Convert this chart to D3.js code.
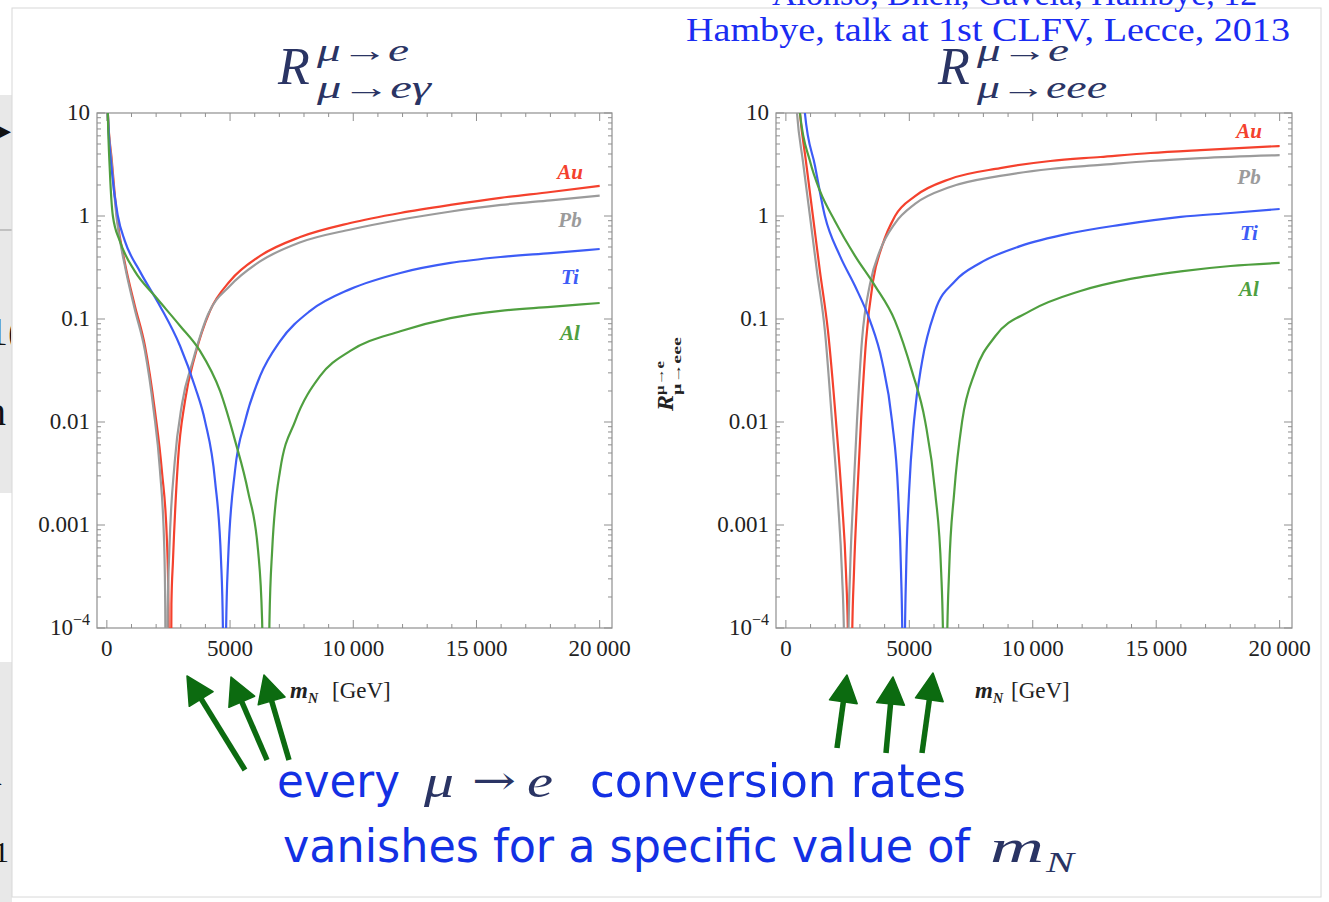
<!DOCTYPE html>
<html><head><meta charset="utf-8">
<script src="https://cdn.jsdelivr.net/npm/d3@7"></script>
<style>body{margin:0;background:#fff}svg{display:block}</style>
</head><body>
<svg id="c" width="1329" height="902"></svg>
<script>
// ---------------- DATA ----------------
const xTicks = [0, 5000, 10000, 15000, 20000];
const xTickLabels = ["0", "5000", "10\u2009000", "15\u2009000", "20\u2009000"];
const yTicks = [10, 1, 0.1, 0.01, 0.001, 0.0001];
const yTickLabels = ["10", "1", "0.1", "0.01", "0.001", "10^-4"];
const elements = ["Au", "Pb", "Ti", "Al"];

// Left panel: R(mu->e)/(mu->e gamma)
const leftAu = [[0,40],[40,10],[203,3.42],[407,1.0],[732,0.35],[1138,0.134],[1545,0.055],[1951,0.0128],[2236,0.0033],[2439,0.0007],[2500,0.00017],[2560,1e-7],[2620,0.00017],[2683,0.00045],[2886,0.0042],[3171,0.016],[3577,0.044],[4187,0.12],[5000,0.234],[6220,0.41],[7845,0.625],[9878,0.855],[11910,1.07],[13943,1.28],[15975,1.5],[18008,1.71],[20000,1.96]];
const leftPb = [[0,40],[40,10],[200,3.2],[400,0.95],[730,0.33],[1130,0.125],[1540,0.05],[1900,0.013],[2150,0.0035],[2330,0.0006],[2370,0.00015],[2420,1e-7],[2470,0.00015],[2540,0.0006],[2750,0.004],[3050,0.015],[3500,0.04],[4100,0.11],[5000,0.21],[6200,0.36],[7800,0.55],[9900,0.74],[11900,0.92],[13900,1.1],[16000,1.28],[18000,1.42],[20000,1.58]];
const leftTi = [[0,40],[40,10],[203,2.73],[447,1.0],[732,0.57],[1341,0.29],[2154,0.134],[2967,0.055],[3577,0.022],[3984,0.0102],[4390,0.0027],[4634,0.00045],[4710,0.0001],[4776,1e-7],[4840,0.0001],[4919,0.00045],[5203,0.0034],[5610,0.0102],[6220,0.028],[7032,0.061],[8252,0.12],[9878,0.195],[11910,0.28],[13943,0.35],[15975,0.40],[18008,0.437],[20000,0.478]];
const leftAl = [[0,40],[40,10],[122,2.73],[244,1.0],[528,0.57],[1138,0.29],[1951,0.167],[2967,0.086],[3780,0.049],[4593,0.02],[5203,0.0066],[5732,0.0021],[6138,0.00056],[6300,0.00012],[6463,1e-7],[6600,0.00012],[6707,0.00056],[7032,0.0034],[7642,0.0102],[8658,0.028],[9878,0.049],[11910,0.076],[13943,0.102],[15975,0.12],[18008,0.131],[20000,0.143]];

// Right panel: R(mu->e)/(mu->eee)
const rightAu = [[400,40],[570,10],[811,3.42],[1095,1.0],[1380,0.29],[1704,0.077],[2029,0.0102],[2272,0.0017],[2434,0.00035],[2520,0.00007],[2600,1e-7],[2680,0.00007],[2759,0.00035],[2880,0.0017],[3043,0.0102],[3246,0.061],[3530,0.234],[3895,0.51],[4422,1.0],[5234,1.56],[6653,2.29],[8682,2.92],[10710,3.42],[12739,3.74],[14767,4.09],[16796,4.37],[20000,4.78]];
const rightPb = [[300,40],[450,10],[690,3.4],[975,1.0],[1260,0.29],[1580,0.077],[1870,0.0102],[2110,0.0017],[2270,0.00035],[2360,0.00007],[2450,1e-7],[2530,0.00007],[2600,0.00035],[2720,0.0017],[2880,0.0102],[3080,0.061],[3410,0.22],[3810,0.46],[4420,0.85],[5230,1.31],[6650,1.91],[8680,2.45],[10710,2.86],[12740,3.13],[14770,3.42],[16800,3.65],[20000,3.9]];
const rightTi = [[600,40],[770,10],[1180,3.06],[1580,1.0],[2190,0.41],[2800,0.209],[3410,0.096],[3895,0.039],[4300,0.0102],[4545,0.0021],[4665,0.00035],[4720,0.00007],[4770,1e-7],[4820,0.00007],[4870,0.00035],[4990,0.0021],[5190,0.0102],[5520,0.039],[6045,0.12],[6856,0.234],[7870,0.35],[9490,0.51],[11520,0.68],[13550,0.82],[15990,0.98],[18010,1.07],[20000,1.17]];
const rightAl = [[400,40],[570,10],[975,3.42],[1380,1.75],[1990,0.89],[2800,0.41],[3610,0.21],[4420,0.096],[5110,0.031],[5640,0.0102],[6045,0.0021],[6290,0.00035],[6370,0.00007],[6450,1e-7],[6530,0.00007],[6610,0.00035],[6820,0.0021],[7140,0.0102],[7670,0.031],[8480,0.068],[9900,0.12],[11930,0.187],[13960,0.245],[15990,0.29],[18010,0.327],[20000,0.35]];

// ---------------- STYLE ----------------
const colors = {Au:"#f4412d", Pb:"#9b9b9b", Ti:"#3d5cf6", Al:"#4f9f3f"};
const serif = "'Liberation Serif','Times New Roman',serif";
const svg = d3.select("#c");

// background slide remnants
svg.append("rect").attr("x",0).attr("y",0).attr("width",1329).attr("height",902).attr("fill","#fff");
svg.append("rect").attr("x",0).attr("y",95).attr("width",12).attr("height",398).attr("fill","#e8e8e8");
svg.append("rect").attr("x",0).attr("y",662).attr("width",12).attr("height",240).attr("fill","#e8e8e8");
svg.append("line").attr("x1",0).attr("x2",12).attr("y1",230).attr("y2",230).attr("stroke","#999");
svg.append("clipPath").attr("id","leftstrip").append("rect").attr("x",0).attr("y",0).attr("width",11).attr("height",902);
const frag = svg.append("g").attr("clip-path","url(#leftstrip)");
[["\u25B8",-4,140,30],["1(",-12,345,40],["n",-14,425,40],["a",-16,785,40],["1",-6,862,30]].forEach(f=>{
  frag.append("text").attr("x",f[1]).attr("y",f[2]).attr("font-family",serif).attr("font-size",f[3]).attr("fill","#111").text(f[0]);
});
svg.append("rect").attr("x",12).attr("y",8).attr("width",1309).attr("height",889).attr("fill","#fff").attr("stroke","#d8d8d8").attr("stroke-width",1);

// citation texts
svg.append("text").attr("x",772).attr("y",5).attr("font-family",serif).attr("font-size",34).attr("fill","#1a2cf2")
  .text("Alonso, Dhen, Gavela, Hambye, 12");
svg.append("text").attr("x",686).attr("y",41).attr("font-family",serif).attr("font-size",34).attr("fill","#1a2cf2")
  .attr("textLength",604).attr("lengthAdjust","spacingAndGlyphs")
  .text("Hambye, talk at 1st CLFV, Lecce, 2013");

function drawPlot(cfg){
  const x = d3.scaleLinear().domain([-400,20500]).range([cfg.L, cfg.R]);
  const y = d3.scaleLog().domain([1e-4,10]).range([628,113]);
  const g = svg.append("g");
  const cid = "clip"+cfg.id;
  svg.append("clipPath").attr("id",cid).append("rect").attr("x",cfg.L).attr("y",113).attr("width",cfg.R-cfg.L).attr("height",515);
  g.append("rect").attr("x",cfg.L).attr("y",113).attr("width",cfg.R-cfg.L).attr("height",515)
    .attr("fill","none").attr("stroke","#8f8f8f").attr("stroke-width",1.2);
  const tk = g.append("g").attr("stroke","#8f8f8f").attr("stroke-width",1);
  d3.range(0,20001,1000).forEach(v=>{
    const len = v%5000===0 ? 8 : 4;
    tk.append("line").attr("x1",x(v)).attr("x2",x(v)).attr("y1",628).attr("y2",628-len);
    tk.append("line").attr("x1",x(v)).attr("x2",x(v)).attr("y1",113).attr("y2",113+len);
  });
  const minor=[];
  [1e-4,1e-3,1e-2,1e-1,1].forEach(d=>{for(let k=2;k<=9;k++) minor.push(d*k);});
  minor.forEach(v=>{
    tk.append("line").attr("x1",cfg.L).attr("x2",cfg.L+4).attr("y1",y(v)).attr("y2",y(v));
    tk.append("line").attr("x1",cfg.R).attr("x2",cfg.R-4).attr("y1",y(v)).attr("y2",y(v));
  });
  yTicks.forEach(v=>{
    tk.append("line").attr("x1",cfg.L).attr("x2",cfg.L+8).attr("y1",y(v)).attr("y2",y(v));
    tk.append("line").attr("x1",cfg.R).attr("x2",cfg.R-8).attr("y1",y(v)).attr("y2",y(v));
  });
  xTicks.forEach((v,i)=>{
    g.append("text").attr("x",x(v)).attr("y",656).attr("text-anchor","middle")
      .attr("font-family",serif).attr("font-size",23).attr("fill","#222").text(xTickLabels[i]);
  });
  yTicks.forEach((v,i)=>{
    const t = g.append("text").attr("x",cfg.L-7).attr("y",y(v)+7).attr("text-anchor","end")
      .attr("font-family",serif).attr("font-size",23).attr("fill","#222");
    const lab = yTickLabels[i];
    if(lab.indexOf("^")>=0){
      const p = lab.split("^");
      t.append("tspan").text(p[0]);
      t.append("tspan").attr("dy",-10).attr("font-size",16).text(p[1].replace("-","\u2212"));
    } else t.text(lab);
  });
  const line = d3.line().x(d=>x(d[0])).y(d=>y(d[1])).curve(d3.curveMonotoneX);
  const cg = g.append("g").attr("clip-path","url(#"+cid+")");
  cfg.series.forEach((s,i)=>{
    cg.append("path").attr("d",line(s)).attr("fill","none").attr("stroke",colors[elements[i]])
      .attr("stroke-width",2.2).attr("stroke-linejoin","round");
  });
  elements.forEach((e,i)=>{
    g.append("text").attr("x",cfg.labX).attr("y",cfg.labY[i]).attr("text-anchor","middle")
      .attr("font-family",serif).attr("font-style","italic").attr("font-weight","bold")
      .attr("font-size",21).attr("fill",colors[e]).text(e);
  });
  const al = g.append("text").attr("x",cfg.axX).attr("y",698).attr("font-family",serif)
    .attr("font-size",23).attr("fill","#222");
  al.append("tspan").attr("font-style","italic").attr("font-weight","bold").text("m");
  al.append("tspan").attr("font-style","italic").attr("font-weight","bold").attr("font-size",14).attr("dy",5).text("N");
  al.append("tspan").attr("dy",-5).attr("dx",cfg.axGap).text("[GeV]");
}

drawPlot({id:"L", L:97, R:612, series:[leftAu,leftPb,leftTi,leftAl], labX:570, labY:[179,227,284,340], axX:290, axGap:14});
drawPlot({id:"R", L:776, R:1292, series:[rightAu,rightPb,rightTi,rightAl], labX:1249, labY:[138,184,240,296], axX:975, axGap:8});

// titles
const navy = "#2a3464";
function title(xR, sub, subLen){
  svg.append("text").attr("x",xR).attr("y",84).attr("font-family",serif).attr("font-style","italic")
    .attr("font-size",52).attr("fill",navy).text("R");
  svg.append("text").attr("x",xR+39).attr("y",61).attr("font-family",serif).attr("font-style","italic")
    .attr("font-size",32).attr("fill",navy).attr("textLength",92).attr("lengthAdjust","spacingAndGlyphs").text("\u03BC\u2192e");
  svg.append("text").attr("x",xR+39).attr("y",98).attr("font-family",serif).attr("font-style","italic")
    .attr("font-size",32).attr("fill",navy).attr("textLength",subLen).attr("lengthAdjust","spacingAndGlyphs").text(sub);
}
title(278, "\u03BC\u2192e\u03B3", 114);
title(938, "\u03BC\u2192eee", 130);

// rotated y label on right plot
const yl = svg.append("text").attr("transform","translate(673,411) rotate(-90)").attr("font-family",serif)
  .attr("font-weight","bold").attr("fill","#222");
yl.append("tspan").attr("font-style","italic").attr("font-size",24).text("R");
yl.append("tspan").attr("font-size",13).attr("dy",-9).attr("textLength",34).attr("lengthAdjust","spacingAndGlyphs").text("\u03BC\u2192e");
yl.append("tspan").attr("font-size",13).attr("dx",-34).attr("dy",17).attr("textLength",58).attr("lengthAdjust","spacingAndGlyphs").text("\u03BC\u2192eee");

// arrows
const arrowTails = [[245,770],[267,760],[289,760],[837,748],[886,753],[922,753]];
const arrowTips  = [[187,676],[231,677],[264,675],[847,675],[893,677],[933,673]];
const ag = svg.append("g").attr("fill","#0c6b10").attr("stroke","#0c6b10");
arrowTails.forEach((t,i)=>{
  const p = arrowTips[i];
  const dx=p[0]-t[0], dy=p[1]-t[1], L=Math.hypot(dx,dy), ux=dx/L, uy=dy/L;
  const hl=27, hw=14;
  const bx=p[0]-ux*hl, by=p[1]-uy*hl;
  ag.append("line").attr("x1",t[0]).attr("y1",t[1]).attr("x2",bx+ux*3).attr("y2",by+uy*3).attr("stroke-width",5.5);
  ag.append("path").attr("stroke-width",1.5).attr("stroke-linejoin","round")
    .attr("d",`M${p[0]},${p[1]}L${bx-uy*hw},${by+ux*hw}L${bx+uy*hw},${by-ux*hw}Z`);
});

// bottom caption
const blue = "#1330e4";
const sans = "'Liberation Sans Narrow','DejaVu Sans Condensed','Open Sans',sans-serif";
function txt(x,y,s,len,fam,size,fill,style){
  const t = svg.append("text").attr("x",x).attr("y",y).attr("font-family",fam).attr("font-size",size)
    .attr("fill",fill).text(s);
  if(len) t.attr("textLength",len).attr("lengthAdjust","spacingAndGlyphs");
  if(style) t.attr("font-style",style);
  return t;
}
txt(277,797,"every",123,sans,46,blue);
txt(424,797,"\u03BC",30,serif,46,navy,"italic");
txt(472,794,"\u2192",44,"'DejaVu Serif',serif",40,navy);
txt(527,797,"e",26,serif,46,navy,"italic");
txt(590,797,"conversion rates",376,sans,46,blue);
txt(283,862,"vanishes for a specific value of",687,sans,46,blue);
txt(990,862,"m",54,serif,46,navy,"italic");
txt(1046,872,"N",28,serif,30,navy,"italic");
</script>
</body></html>
